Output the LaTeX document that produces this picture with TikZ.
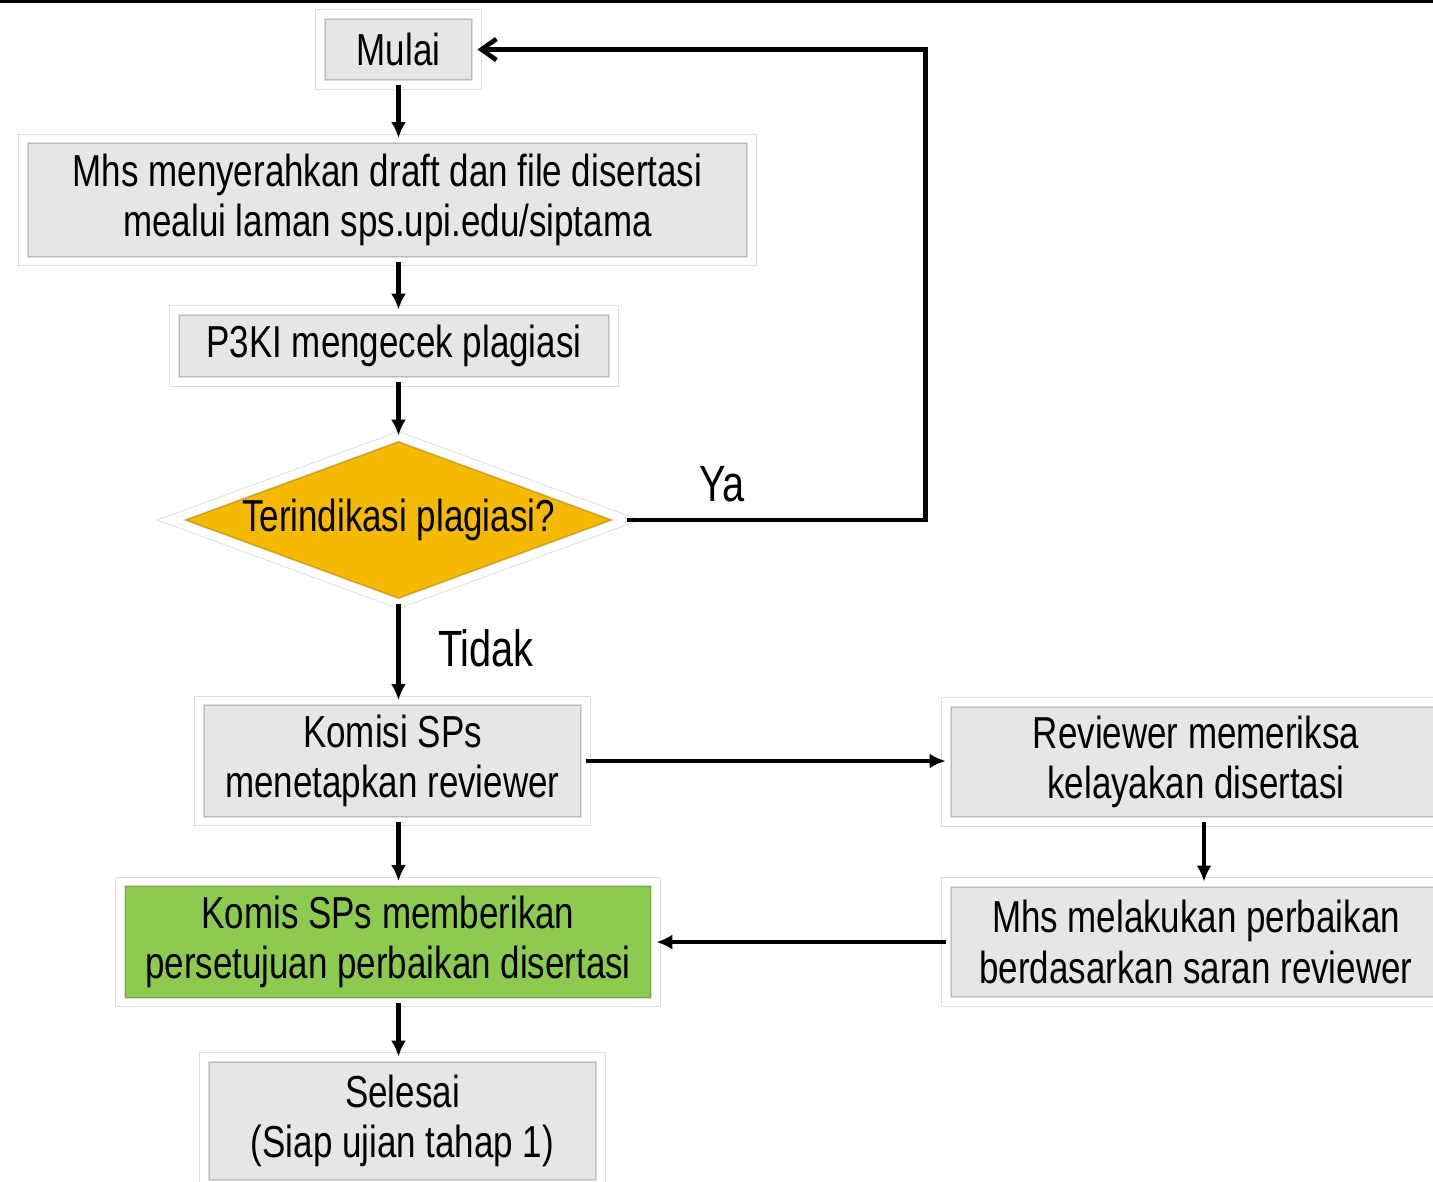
\documentclass[tikz,border=0pt]{standalone}
\usepackage{fontspec}
\setmainfont[FakeStretch=0.78]{Liberation Sans}
\usepackage{xcolor}
\usetikzlibrary{shapes.geometric,shadows,arrows.meta}

\definecolor{boxgray}{HTML}{E6E6E6}
\definecolor{plagyellow}{HTML}{F5BA00}
\definecolor{okgreen}{HTML}{8DCB50}

\tikzset{
  stepbox/.style={draw=black!13, line width=0.5pt, double=white, double distance=4.5pt,
    fill=boxgray, inner sep=0pt, align=center,
    font=\fontsize{25.5}{28.5}\selectfont,
    path picture={\draw [black, opacity=0.18, line width=6.5pt]
      (path picture bounding box.south west) rectangle (path picture bounding box.north east);},
    drop shadow={opacity=0.2, shadow xshift=0pt, shadow yshift=-0.08cm}},
  decision/.style={diamond, aspect=2.7, draw=black!13, line width=0.5pt, double=white, double distance=4.5pt,
    fill=plagyellow, inner sep=0pt,
    font=\fontsize{25.5}{28.5}\selectfont,
    path picture={\draw [black, opacity=0.15, line width=7pt]
      (path picture bounding box.west) -- (path picture bounding box.north)
      -- (path picture bounding box.east) -- (path picture bounding box.south) -- cycle;},
    drop shadow={opacity=0.2, shadow xshift=0pt, shadow yshift=-0.08cm}},
  flow/.style={-{Latex[length=0.32cm,width=0.3cm]}, line width=2.6pt},
  answer/.style={font=\fontsize{29}{32}\selectfont},
}

\begin{document}
\begin{tikzpicture}[x=0.02cm, y=-0.02cm]
\useasboundingbox (0,0) rectangle (1433,1181);
\fill (0,0) rectangle (1433,3);

% left column
\node [stepbox, minimum width=3.14cm, minimum height=1.42cm] (mulai) at (398.5,49.5) {Mulai};
\node [stepbox, minimum width=14.58cm, minimum height=2.46cm] (submit) at (387.5,200)
  {Mhs menyerahkan draft dan file disertasi\\mealui laman sps.upi.edu/siptama};
\node [stepbox, minimum width=8.8cm, minimum height=1.44cm] (plag) at (394,346) {P3KI mengecek plagiasi};
\node [decision, minimum width=9.14cm, minimum height=3.36cm] (cek) at (398.5,520) {Terindikasi plagiasi?};
\node [stepbox, minimum width=7.74cm, minimum height=2.42cm] (komisi) at (392.5,761)
  {Komisi SPs\\menetapkan reviewer};
\node [stepbox, fill=okgreen, minimum width=10.72cm, minimum height=2.42cm] (setuju) at (388,942)
  {Komis SPs memberikan\\persetujuan perbaikan disertasi};
\node [stepbox, minimum width=7.94cm, minimum height=2.56cm] (selesai) at (402.5,1121)
  {Selesai\\(Siap ujian tahap 1)};

% right column
\node [stepbox, minimum width=10cm, minimum height=2.4cm] (review) at (1196,762)
  {Reviewer memeriksa\\kelayakan disertasi};
\node [stepbox, minimum width=10cm, minimum height=2.4cm] (perbaikan) at (1196,942)
  {Mhs melakukan perbaikan\\berdasarkan saran reviewer};

\node [answer] (ya) at (722,484) {Ya};
\node [answer] (tidak) at (486,648) {Tidak};

\draw [flow] (mulai.south) -- (mulai.south |- submit.north);
\draw [flow] (mulai.south |- submit.south) -- (mulai.south |- plag.north);
\draw [flow] (mulai.south |- plag.south) -- (cek.north);
\draw [flow] (cek.south) -- (cek.south |- komisi.north);
\draw [flow] (cek.south |- komisi.south) -- (cek.south |- setuju.north);
\draw [flow] (cek.south |- setuju.south) -- (cek.south |- selesai.north);
\draw [-{Straight Barb[length=0.3cm,width=0.42cm]}, line width=2.6pt] (cek.east) -- ++(298,0) |- (mulai.east);
\draw [flow] (komisi.east) -- (komisi.east -| review.west);
\draw [flow] ([xshift=0.16cm]review.south) -- ([xshift=0.16cm]review.south |- perbaikan.north);
\draw [flow] (perbaikan.west) -- (perbaikan.west -| setuju.east);
\end{tikzpicture}
\end{document}
